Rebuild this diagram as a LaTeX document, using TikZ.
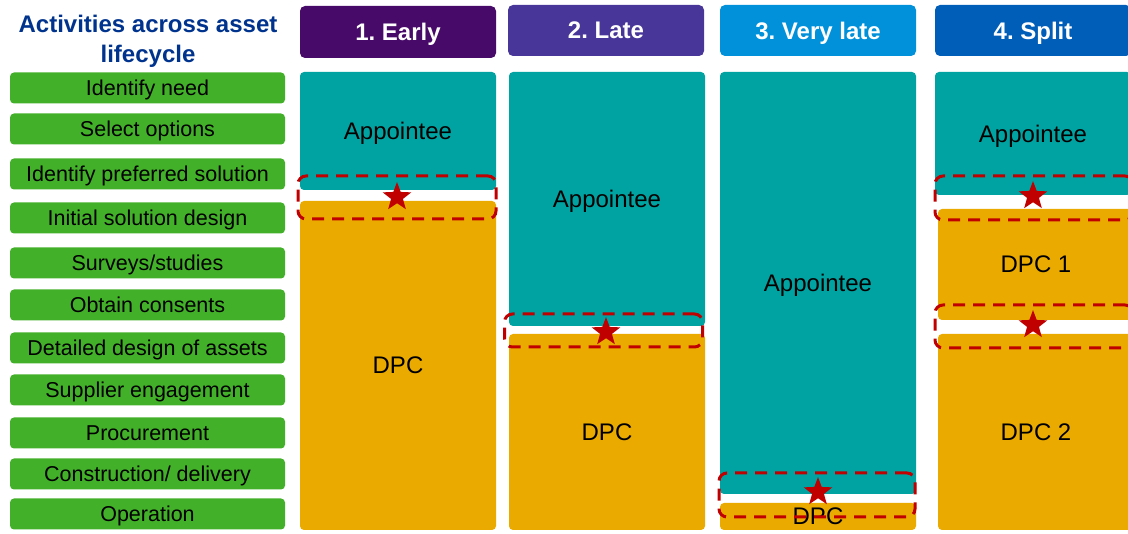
\documentclass[tikz,border=0pt]{standalone}
\usepackage{fontspec}
\setmainfont{Liberation Sans}
\usetikzlibrary{shapes.geometric}
\frenchspacing
\definecolor{kblue}{HTML}{00338D}
\definecolor{kgreen}{HTML}{43B02A}
\definecolor{kteal}{HTML}{00A3A1}
\definecolor{kyellow}{HTML}{EAAA00}
\definecolor{kpurple}{HTML}{470A68}
\definecolor{kviolet}{HTML}{483698}
\definecolor{klight}{HTML}{0091DA}
\definecolor{kmedium}{HTML}{005EB8}
\definecolor{kred}{HTML}{C00000}

\begin{document}
\begin{tikzpicture}[x=1pt,y=-1pt,inner sep=0pt,
  label text/.style={text depth=0pt},
  activity/.style={label text,fill=kgreen,rounded corners=4pt,minimum width=275pt,minimum height=31pt,
    font=\fontsize{21.5}{24}\selectfont},
  header/.style={label text,rounded corners=5pt,minimum width=196pt,minimum height=51pt,text=white,
    font=\fontsize{24}{28}\selectfont\bfseries},
  block/.style={label text,rounded corners=4pt,minimum width=196pt,font=\fontsize{24}{28}\selectfont},
  appointee/.style={block,fill=kteal},
  dpc/.style={block,fill=kyellow},
  handover/.style={draw=kred,line width=3pt,dash pattern=on 12pt off 8pt,rounded corners=8pt,
    minimum width=198pt},
  milestone/.style={star,star points=5,star point ratio=2.4,fill=kred,minimum size=30pt}]
\useasboundingbox (0,0) rectangle (1128,534);
\clip (0,0) rectangle (1128,534);

% activities
\node[align=center,text=kblue,font=\fontsize{24}{30}\selectfont\bfseries] (title) at (148,41.5)
  {Activities across asset\\lifecycle};
\node[activity] (act1) at (147.5,88) {Identify need};
\node[activity] (act2) at (147.5,129) {Select options};
\node[activity] (act3) at (147.5,174) {Identify preferred solution};
\node[activity] (act4) at (147.5,218) {Initial solution design};
\node[activity] (act5) at (147.5,263) {Surveys/studies};
\node[activity] (act6) at (147.5,305) {Obtain consents};
\node[activity] (act7) at (147.5,348) {Detailed design of assets};
\node[activity] (act8) at (147.5,390) {Supplier engagement};
\node[activity] (act9) at (147.5,433) {Procurement};
\node[activity] (act10) at (147.5,474) {Construction/ delivery};
\node[activity] (act11) at (147.5,514) {Operation};

% options
\node[header,fill=kpurple,minimum height=52pt] (hd1) at (398,32) {1. Early};
\node[header,fill=kviolet] (hd2) at (606,30.5) {2. Late};
\node[header,fill=klight] (hd3) at (818,30.5) {3. Very late};
\node[header,fill=kmedium] (hd4) at (1033,30.5) {4. Split};

\node[appointee,minimum height=118pt] (ap1) at (398,131) {Appointee};
\node[dpc,minimum height=329pt] (dpc1) at (398,365.5) {DPC};
\node[appointee,minimum height=254pt] (ap2) at (607,199) {Appointee};
\node[dpc,minimum height=196pt] (dpc2) at (607,432) {DPC};
\node[appointee,minimum height=422pt] (ap3) at (818,283) {Appointee};
\node[dpc,minimum height=27pt] (dpc3) at (818,516.5) {DPC};
\node[appointee,minimum height=123pt] (ap4) at (1033,133.5) {Appointee};
\node[dpc,minimum height=111pt] (dpc4a) at (1036,264.5) {DPC 1};
\node[dpc,minimum height=196pt] (dpc4b) at (1036,432) {DPC 2};

% handovers
\node[handover,minimum height=43pt] (ho1) at (397,197.5) {};
\node[handover,minimum height=33pt] (ho2) at (603.5,330.5) {};
\node[handover,minimum width=196pt,minimum height=44pt] (ho3) at (817,495) {};
\node[handover,minimum height=44pt] (ho4a) at (1034,198) {};
\node[handover,minimum height=43pt] (ho4b) at (1034,326.5) {};

\node[milestone] (st1) at (397,197) {};
\node[milestone] (st2) at (606,332) {};
\node[milestone] (st3) at (818,492) {};
\node[milestone] (st4a) at (1033,196) {};
\node[milestone] (st4b) at (1033,325) {};
\end{tikzpicture}
\end{document}
